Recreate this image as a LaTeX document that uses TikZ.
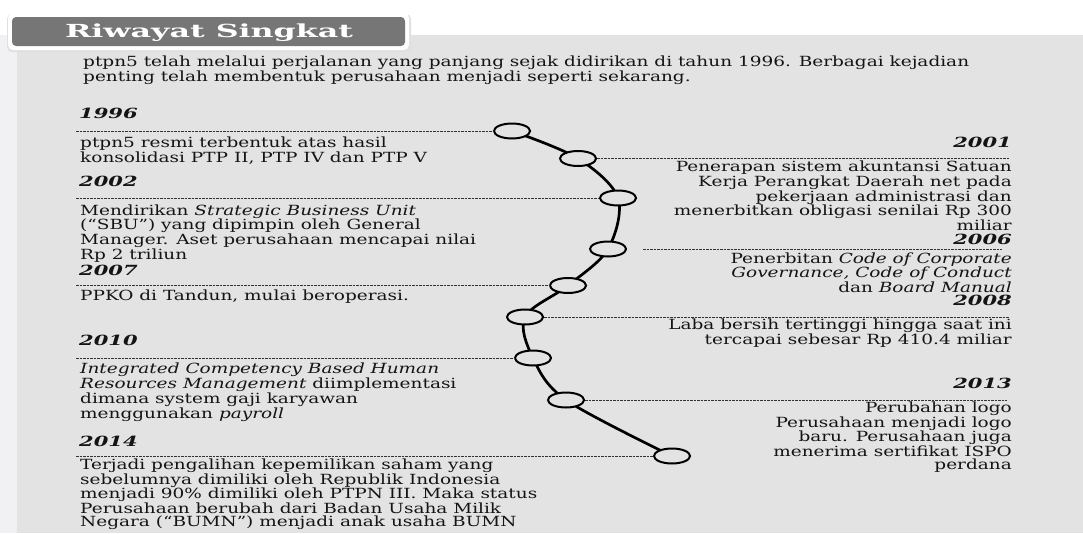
\documentclass[tikz,border=0pt]{standalone}
\usepackage{fontspec}
\setmainfont{DejaVu Serif}[FakeStretch=1.32]
\newfontfamily\titlefont{DejaVu Serif}[FakeStretch=1.76]
\newfontfamily\yearfont{DejaVu Serif}[FakeStretch=1.5]
\usepackage{tikz}
\usetikzlibrary{shapes.geometric}

\definecolor{panelgray}{HTML}{E3E3E3}
\definecolor{sidegray}{HTML}{F1F1F3}
\definecolor{titlegray}{HTML}{767676}
\definecolor{inkgray}{HTML}{141414}

\begin{document}
\begin{tikzpicture}[x=1pt, y=-1pt,
		bodyfont/.style={font=\fontsize{14}{13.4}\selectfont, text=inkgray, inner sep=0pt},
		yearleft/.style={bodyfont, anchor=base west, font=\fontsize{14}{13.4}\selectfont\yearfont\bfseries\itshape},
		yearright/.style={bodyfont, anchor=base east, font=\fontsize{14}{13.4}\selectfont\yearfont\bfseries\itshape},
		textleft/.style={bodyfont, anchor=north west, align=left},
		textright/.style={bodyfont, anchor=north east, align=right},
		dashline/.style={draw=black!80, line width=0.6pt, dash pattern=on 2.5pt off 1pt},
		spine/.style={draw=black, line width=2.7pt},
		knot/.style={ellipse, draw=black, line width=2pt, fill=panelgray, minimum width=36pt, minimum height=15pt, inner sep=0pt}]

		\useasboundingbox (0,0) rectangle (1083,533);

		% page %
		\fill[white] (0,0) rectangle (1083,533);
		\fill[sidegray] (0,35) rectangle (17,533);
		\fill[panelgray] (17,35) rectangle (1083,533);

		% title %
		\fill[black!12, rounded corners=5pt] (7,14) rectangle (411,52);
		\fill[white, rounded corners=5pt] (8,13) rectangle (409,50);
		\fill[titlegray, rounded corners=4pt] (12,17) rectangle (405,46);
		\node[anchor=base, inner sep=0pt, text=white, font=\fontsize{18}{20}\selectfont\titlefont\bfseries] (title) at (209,37.5) {Riwayat Singkat};

		\node[textleft] (intro) at (83,55.5) {ptpn5 telah melalui perjalanan yang panjang sejak didirikan di tahun 1996. Berbagai kejadian\\penting telah membentuk perusahaan menjadi seperti sekarang.};

		% timeline %
		\coordinate (p1996) at (512,131);
		\coordinate (p2001) at (578,158.5);
		\coordinate (p2002) at (618,198);
		\coordinate (p2006) at (608,249);
		\coordinate (p2007) at (568,285.5);
		\coordinate (p2008) at (525,317);
		\coordinate (p2010) at (533,358);
		\coordinate (p2013) at (566,400);
		\coordinate (p2014) at (672,456);

		\draw[spine] plot[smooth, tension=0.55] coordinates {(p1996) (p2001) (p2002) (p2006) (p2007) (p2008) (p2010) (p2013) (p2014)};

		\foreach \yr in {1996,2001,2002,2006,2007,2008,2010,2013,2014}
			\node[knot] (c\yr) at (p\yr) {};

		% 1996 %
		\node[yearleft] (y1996) at (79,118) {1996};
		\coordinate (d1996) at (76,131);
		\draw[dashline] (d1996) -- (c1996.west);
		\node[textleft] (t1996) at (80,137) {ptpn5 resmi terbentuk atas hasil\\konsolidasi PTP II, PTP IV dan PTP V};

		% 2001 %
		\node[yearright] (y2001) at (1012,147.7) {2001};
		\coordinate (d2001) at (1009,158.5);
		\draw[dashline] (c2001.east) -- (d2001);
		\node[textright] (t2001) at (1012,161) {Penerapan sistem akuntansi Satuan\\Kerja Perangkat Daerah net pada\\pekerjaan administrasi dan\\menerbitkan obligasi senilai Rp 300\\miliar};

		% 2002 %
		\node[yearleft] (y2002) at (79,186.5) {2002};
		\coordinate (d2002) at (76,198);
		\draw[dashline] (d2002) -- (c2002.west);
		\node[textleft] (t2002) at (80,204.2) {Mendirikan \textit{Strategic Business Unit}\\(“SBU”) yang dipimpin oleh General\\Manager. Aset perusahaan mencapai nilai\\Rp 2 triliun};

		% 2006 %
		\node[yearright] (y2006) at (1012,244) {2006};
		\coordinate (s2006) at (643,249);
		\coordinate (d2006) at (1002,249);
		\draw[dashline] (s2006) -- (d2006);
		\node[textright] (t2006) at (1012,252.5) {Penerbitan \textit{Code of Corporate}\\\textit{Governance, Code of Conduct}\\dan \textit{Board Manual}};

		% 2007 %
		\node[yearleft] (y2007) at (79,275.5) {2007};
		\coordinate (d2007) at (76,285.5);
		\draw[dashline] (d2007) -- (c2007.west);
		\node[textleft] (t2007) at (80,290) {PPKO di Tandun, mulai beroperasi.};

		% 2008 %
		\node[yearright] (y2008) at (1012,305.5) {2008};
		\coordinate (d2008) at (1009,317);
		\draw[dashline] (c2008.east) -- (d2008);
		\node[textright] (t2008) at (1012,319) {Laba bersih tertinggi hingga saat ini\\tercapai sebesar Rp 410.4 miliar};

		% 2010 %
		\node[yearleft] (y2010) at (79,345) {2010};
		\coordinate (d2010) at (76,358);
		\draw[dashline] (d2010) -- (c2010.west);
		\node[textleft] (t2010) at (80,363) {\textit{Integrated Competency Based Human}\\\textit{Resources Management} diimplementasi\\dimana system gaji karyawan\\menggunakan \textit{payroll}};

		% 2013 %
		\node[yearright] (y2013) at (1012,388) {2013};
		\coordinate (d2013) at (1007,400);
		\draw[dashline] (c2013.east) -- (d2013);
		\node[textright] (t2013) at (1012,401.5) {Perubahan logo\\Perusahaan menjadi logo\\baru. Perusahaan juga\\menerima sertifikat ISPO\\perdana};

		% 2014 %
		\node[yearleft] (y2014) at (79,446.5) {2014};
		\coordinate (d2014) at (76,456);
		\draw[dashline] (d2014) -- (c2014.west);
		\node[textleft] (t2014) at (80,458.5) {Terjadi pengalihan kepemilikan saham yang\\sebelumnya dimiliki oleh Republik Indonesia\\menjadi 90\% dimiliki oleh PTPN III. Maka status\\Perusahaan berubah dari Badan Usaha Milik\\Negara (“BUMN”) menjadi anak usaha BUMN};

	\end{tikzpicture}
\end{document}
